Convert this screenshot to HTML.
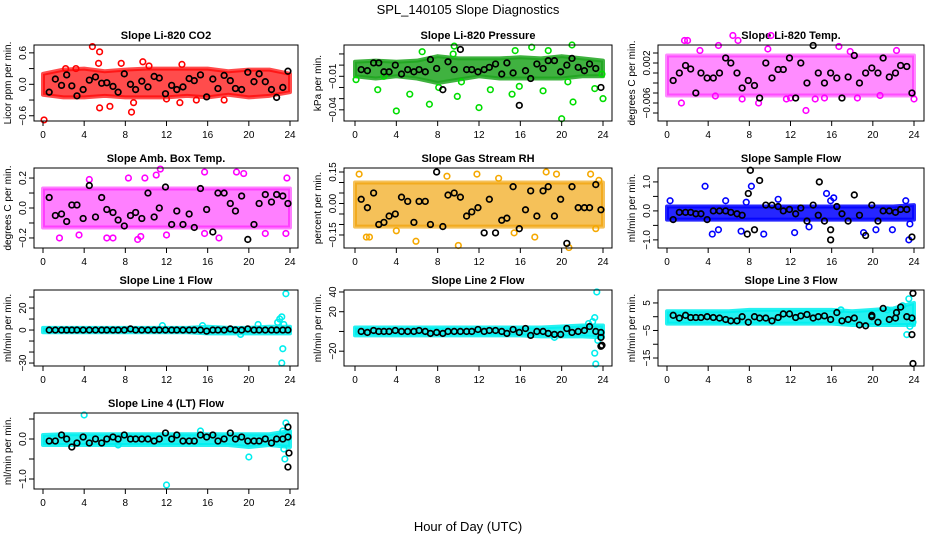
<!DOCTYPE html>
<html><head><meta charset="utf-8">
<style>
html,body{margin:0;padding:0;background:#fff;}
svg{display:block;font-family:"Liberation Sans",sans-serif;}
</style></head>
<body>
<svg id="chart" width="936" height="540" viewBox="0 0 936 540">
<text x="468" y="14" text-anchor="middle" font-size="13">SPL_140105  Slope Diagnostics</text>
<text x="468" y="531" text-anchor="middle" font-size="13">Hour of Day (UTC)</text>
</svg>
<script>
// shared sample hours for black points and band hours
const blackHours=[0.6,1.2,1.8,2.3,2.8,3.3,3.9,4.5,5.1,5.7,6.2,6.8,7.3,7.9,8.5,9.0,9.6,10.2,10.8,11.3,11.9,12.5,13.0,13.6,14.2,14.7,15.3,15.9,16.5,17.0,17.6,18.2,18.7,19.3,19.9,20.5,21.0,21.6,22.2,22.7,23.3,23.8];
const bandHours=[0,2,4,6,8,10,12,14,16,18,20,22,24];
const xTicks=[0,4,8,12,16,20,24];

// CO2
const co2Black=[-0.15,0.1,-0.02,0.18,-0.03,-0.22,-0.1,0.08,0.14,0.02,0.03,-0.04,-0.15,0.2,0.0,-0.1,0.06,-0.05,0.15,0.12,-0.18,-0.02,-0.1,-0.05,0.11,0.07,0.18,-0.24,0.1,-0.08,0.17,0.07,-0.08,-0.1,0.23,0.05,0.2,0.05,-0.1,-0.25,-0.06,0.25];
const co2Lo=[-0.2,-0.25,-0.25,-0.22,-0.25,-0.25,-0.25,-0.22,-0.25,-0.2,-0.25,-0.22,-0.15];
const co2Hi=[0.2,0.28,0.3,0.25,0.28,0.3,0.3,0.3,0.3,0.25,0.28,0.28,0.2];
const co2OutH=[4.8,5.5,5.5,6.5,8.6,0.1,2.2,3.2,5.4,7.6,9.7,12,13.3,14.9,17.6,10.3,13.5,8.8];
const co2OutV=[0.72,0.62,-0.45,-0.42,-0.53,-0.68,0.3,0.3,0.4,0.4,0.43,-0.28,-0.35,-0.3,-0.3,0.35,0.38,-0.35];
// Pressure
const presBlack=[-0.004,-0.005,0.002,0.002,-0.006,-0.006,0.0,-0.008,-0.004,-0.006,-0.004,-0.006,0.005,-0.003,-0.022,0.003,-0.004,0.014,-0.004,-0.004,-0.006,-0.004,-0.002,0.001,-0.008,0.002,-0.007,-0.036,-0.005,-0.012,0.001,-0.003,0.004,0.004,-0.006,0.0,0.006,-0.002,-0.005,0.001,-0.003,-0.02];
const presLo=[-0.01,-0.012,-0.01,-0.012,-0.016,-0.013,-0.01,-0.012,-0.012,-0.012,-0.012,-0.01,-0.01];
const presHi=[0.003,0.004,0.003,0.004,0.008,0.006,0.006,0.006,0.007,0.006,0.008,0.006,0.004];
const presOutH=[0.1,2.2,2.8,4,5.3,7.2,8.1,9.6,9.5,9.9,10.3,12,13.1,15.2,15.9,17.1,18.2,18.7,20,20.6,21,21.1,23.2,24,23.9,6.5,15.5];
const presOutV=[-0.013,-0.022,-0.01,-0.041,-0.026,-0.035,-0.02,0.017,0.01,-0.028,-0.015,-0.038,-0.022,-0.026,-0.019,0.016,-0.023,0.013,-0.048,-0.015,0.018,-0.033,-0.021,-0.03,-0.008,0.012,0.013];
// Temp
const tempBlack=[-0.0015,0.0,0.0015,0.0008,-0.004,0.0,-0.001,-0.001,0.0,0.003,0.002,0.0,-0.003,-0.0015,-0.0025,-0.005,0.002,-0.001,0.0007,0.0007,0.003,-0.005,0.002,-0.002,0.0055,0.0,-0.002,0.0,-0.001,-0.005,-0.0008,0.0035,-0.002,0.0,0.001,0.0,0.003,-0.0008,0.0,0.0015,0.0013,-0.004];
const tempLo=[-0.0045,-0.0045,-0.0045,-0.0045,-0.0045,-0.0045,-0.0045,-0.0045,-0.0045,-0.0045,-0.0045,-0.0045,-0.0045];
const tempHi=[0.0035,0.0035,0.0035,0.0035,0.0035,0.0035,0.0035,0.0035,0.0035,0.0035,0.0035,0.0035,0.0035];
const tempOutH=[1.7,2,3.2,1.4,5.0,6.4,6.9,7.3,9.8,10.1,11.6,12.0,13.5,14.4,16.7,15.3,17.8,18.5,20.7,22.3,24,8.9,4.7];
const tempOutV=[0.0065,0.0065,0.0045,-0.006,0.0055,0.0075,0.0065,-0.0052,0.0048,0.0075,-0.0052,-0.005,-0.0075,-0.0052,0.0053,-0.005,0.0043,-0.005,-0.0045,0.0045,-0.0052,-0.006,-0.0046];
// Amb box temp
const ambBlack=[0.07,-0.05,-0.04,-0.09,0.02,0.02,-0.07,0.15,-0.06,0.07,-0.01,-0.03,-0.08,-0.12,-0.05,-0.03,-0.07,0.1,-0.06,0.0,0.14,-0.11,-0.02,-0.11,-0.04,-0.13,0.13,-0.01,-0.16,0.1,0.1,0.03,-0.02,0.08,-0.21,-0.11,0.03,0.09,0.04,0.09,0.08,0.03];
const ambLo=[-0.13,-0.13,-0.13,-0.13,-0.13,-0.13,-0.13,-0.13,-0.13,-0.13,-0.13,-0.13,-0.13];
const ambHi=[0.13,0.13,0.13,0.13,0.13,0.13,0.13,0.13,0.13,0.13,0.13,0.13,0.13];
const ambOutH=[4.5,9.9,11.4,11.0,15.7,18.8,19.5,23.7,1.6,3.5,6.2,6.8,9.2,9.5,12.0,15.7,17.1,21.6,23.6,8.3];
const ambOutV=[0.19,0.2,0.26,0.22,0.24,0.24,0.23,0.2,-0.2,-0.18,-0.2,-0.2,-0.21,-0.19,-0.18,-0.17,-0.2,-0.17,-0.17,0.2];
// RH
const rhBlack=[0.02,-0.02,0.05,-0.1,-0.09,-0.06,-0.05,0.03,0.01,-0.09,0.01,0.01,-0.1,0.15,-0.11,0.04,0.05,0.03,-0.06,-0.04,-0.02,-0.14,0.02,-0.14,-0.08,-0.07,0.08,-0.12,-0.03,0.06,-0.06,0.06,0.08,-0.06,0.02,-0.19,0.08,-0.02,-0.02,-0.02,0.09,-0.03];
const rhLo=[-0.11,-0.11,-0.11,-0.11,-0.11,-0.11,-0.11,-0.11,-0.11,-0.11,-0.11,-0.11,-0.11];
const rhHi=[0.1,0.1,0.1,0.1,0.1,0.1,0.1,0.1,0.1,0.1,0.1,0.1,0.1];
const rhOutH=[0.4,1.1,1.4,8.9,11.8,13.9,18.5,19.5,20.7,22.8,23.6,5.9,10.0,23.3,17.4,4.0,15.4];
const rhOutV=[0.14,-0.16,-0.16,0.13,0.14,0.12,0.15,0.14,-0.21,0.14,0.11,-0.18,-0.2,-0.12,-0.16,-0.13,-0.14];
// Sample flow
const sfBlack=[-0.3,-0.05,-0.05,-0.05,-0.1,-0.1,-0.3,0.0,0.0,0.0,-0.05,-0.1,-0.15,0.6,-0.65,1.05,0.2,0.2,0.15,0.0,0.05,-0.1,0.1,-0.35,0.2,-0.15,-0.35,-0.65,0.15,-0.1,-0.35,0.55,-0.15,-0.85,0.2,-0.35,0.0,0.0,-0.05,0.05,0.05,-0.9];
const sfExtraH=[8.1,14.8,15.9,7.8];
const sfExtraV=[1.4,1.0,-1.0,-0.8];
const sfLo=[-0.3,-0.3,-0.3,-0.3,-0.3,-0.3,-0.3,-0.3,-0.3,-0.3,-0.3,-0.3,-0.3];
const sfHi=[0.15,0.15,0.15,0.15,0.15,0.15,0.15,0.15,0.15,0.15,0.15,0.15,0.2];
const sfOutH=[0.3,3.7,5.7,4.4,5.0,7.7,8.2,9.4,10.8,12.4,13.8,15.5,15.9,16.2,19.1,20.3,21.9,23.2,23.5,23.6,7.2];
const sfOutV=[0.35,0.85,0.35,-0.8,-0.65,0.3,0.85,-0.8,0.4,-0.75,-0.55,0.6,0.35,0.45,-0.75,-0.65,-0.65,0.35,-1.0,-0.45,-0.7];
// Line 1
const l1Black=[0,0,0,0,0,0,0,0,0,0,0,0,0,0,1,0,0,0,0,0,0,0,0,0,0,0,0,-1,0,0,0,1,0,0,1,0,0,0,0,0,0,0];
const l1Lo=[-2,-2,-2,-2,-2,-2,-2,-2,-3,-3,-3,-3,-3];
const l1Hi=[2,2,2,2,2,2,2,2,3,2,2,3,3];
const l1OutH=[22.8,23.0,23.2,23.4,23.3,23.2,23.6,20.9,11.6,15.5,19.2];
const l1OutV=[7,10,12,5,-17,-30,33,5,4,4,-4];
// Line 2
const l2Black=[0,-1,1,0,0,0,1,0,0,0,1,0,-2,-1,-2,0,0,0,0,0,2,0,1,1,0,-2,2,-1,3,-4,0,0,-2,-3,-3,3,-1,0,1,5,0,-1];
const l2ExtraH=[23.8,23.9,23.8];
const l2ExtraV=[-6,-14,-15];
const l2Lo=[-4,-4,-4,-4,-4,-4,-4,-4,-4,-5,-5,-5,-6];
const l2Hi=[4,4,4,4,4,4,4,4,4,4,5,6,6];
const l2OutH=[23.4,23.0,23.2,23.2,23.3,23.5,22.6,19.3];
const l2OutV=[40,10,14,-22,-33,-9,8,-6];
// Line 3
const l3Black=[0.5,-0.5,0.5,-0.3,-0.3,-0.3,0,-0.3,-0.5,-1,-1.5,-1.5,0,-2,0,-0.5,-0.5,-1.5,-0.3,1,1,-0.3,0.3,0.8,-0.5,0,0.3,-1,1.5,-1.5,-1,-0.5,-3,-3.3,0,-2,3,-1,-0.5,3.5,0,-0.5];
const l3ExtraH=[23.8,23.9,23.9,19.9,22.3];
const l3ExtraV=[-6.5,-17,8.5,0.5,1.5];
const l3Lo=[-2.5,-2.5,-2.5,-2.5,-2.5,-2.5,-2.5,-2.5,-2.5,-3,-3,-3,-3];
const l3Hi=[2,2,2,2,2.5,2.5,2.5,2.5,2.5,2,2.5,3,5];
const l3OutH=[23.5,23.3,23.6,22.9,23.9,21.4,16.9];
const l3OutV=[6.5,-6.5,-3.5,4,-2,2.5,2.5];
// Line 4
const l4Black=[-0.05,-0.05,0.1,0.0,-0.2,-0.1,0.05,-0.1,0.0,-0.1,0.0,0.05,0.0,0.1,0.0,0.0,0.0,0.0,-0.05,0.0,0.15,0.0,0.1,-0.05,-0.05,-0.05,0.1,0.05,0.1,-0.05,0.0,0.15,0.0,0.05,-0.05,-0.05,-0.05,0.0,-0.1,0.0,0.0,0.3];
const l4ExtraH=[23.9,23.8,23.8];
const l4ExtraV=[-0.35,-0.7,0.05];
const l4Lo=[-0.15,-0.15,-0.15,-0.15,-0.15,-0.15,-0.15,-0.15,-0.15,-0.15,-0.2,-0.15,-0.2];
const l4Hi=[0.1,0.12,0.12,0.12,0.12,0.12,0.12,0.12,0.12,0.12,0.12,0.12,0.2];
const l4OutH=[4.0,12,20,23.5,23.6,23.4,23.3,15.3,7.3];
const l4OutV=[0.6,-1.15,-0.45,-0.5,0.4,-0.25,0.2,0.2,-0.15];

const NS="http://www.w3.org/2000/svg";
const svg=document.getElementById('chart');
function mk(tag,attrs,parent){const e=document.createElementNS(NS,tag);for(const k in attrs)e.setAttribute(k,attrs[k]);(parent||svg).appendChild(e);return e;}

const cols=[{l:34,r:298,x0:43,x24:290},{l:344,r:612,x0:355,x24:603},{l:658,r:924,x0:667,x24:914}];
const rows=[{t:45,b:121},{t:168,b:248},{t:290,b:366},{t:413,b:489}];

const panels=[
 {key:'co2',title:'Slope Li-820 CO2',ylab:'Licor ppm per min.',c:0,r:0,ymin:-0.70,ymax:0.75,ticks:[-0.6,-0.3,0,0.3,0.6],labs:['\u22120.6','','0.0','','0.6'],color:'#ff0000',bandColor:'#ff0000',op:0.7,black:co2Black,lo:co2Lo,hi:co2Hi,oh:co2OutH,ov:co2OutV},
 {key:'pressure',title:'Slope Li-820 Pressure',ylab:'kPa per min.',c:1,r:0,ymin:-0.05,ymax:0.018,ticks:[0.01,0,-0.01,-0.02,-0.03,-0.04],labs:['','','\u22120.01','','','\u22120.04'],color:'#00dd00',bandColor:'#1fa51f',op:0.85,black:presBlack,lo:presLo,hi:presHi,oh:presOutH,ov:presOutV},
 {key:'temp',title:'Slope Li-820 Temp.',ylab:'degrees C per min.',c:2,r:0,ymin:-0.0096,ymax:0.0056,ticks:[0.004,0.002,0,-0.002,-0.004,-0.006,-0.008],labs:['','0.002','','','','\u22120.006',''],color:'#ff00ff',bandColor:'#ff00ff',op:0.45,black:tempBlack,lo:tempLo,hi:tempHi,oh:tempOutH,ov:tempOutV},
 {key:'amb-box-temp',title:'Slope Amb. Box Temp.',ylab:'degrees C per min.',c:0,r:1,ymin:-0.267,ymax:0.267,ticks:[0.2,0.1,0,-0.1,-0.2],labs:['0.2','','0.0','','\u22120.2'],color:'#ff00ff',bandColor:'#ff00ff',op:0.5,black:ambBlack,lo:ambLo,hi:ambHi,oh:ambOutH,ov:ambOutV},
 {key:'gas-stream-rh',title:'Slope Gas Stream RH',ylab:'percent per min.',c:1,r:1,ymin:-0.212,ymax:0.169,ticks:[0.15,0.1,0.05,0,-0.05,-0.1,-0.15],labs:['0.15','','','0.00','','','\u22120.15'],color:'#f5a800',bandColor:'#f0a000',op:0.65,black:rhBlack,lo:rhLo,hi:rhHi,oh:rhOutH,ov:rhOutV},
 {key:'sample-flow',title:'Slope Sample Flow',ylab:'ml/min per min.',c:2,r:1,ymin:-1.28,ymax:1.48,ticks:[1,0.5,0,-0.5,-1],labs:['1.0','','0.0','','\u22121.0'],color:'#0000ff',bandColor:'#0000ff',op:0.85,black:sfBlack,lo:sfLo,hi:sfHi,oh:sfOutH,ov:sfOutV,eh:sfExtraH,ev:sfExtraV},
 {key:'line1-flow',title:'Slope Line 1 Flow',ylab:'ml/min per min.',c:0,r:2,ymin:-32.7,ymax:36.4,ticks:[30,20,10,0,-10,-20,-30],labs:['','20','','0','','','\u221230'],color:'#00eeee',bandColor:'#00eeee',op:0.85,black:l1Black,lo:l1Lo,hi:l1Hi,oh:l1OutH,ov:l1OutV},
 {key:'line2-flow',title:'Slope Line 2 Flow',ylab:'ml/min per min.',c:1,r:2,ymin:-35,ymax:42,ticks:[40,20,0,-20],labs:['40','20','','\u221220'],color:'#00eeee',bandColor:'#00eeee',op:0.85,black:l2Black,lo:l2Lo,hi:l2Hi,oh:l2OutH,ov:l2OutV,eh:l2ExtraH,ev:l2ExtraV},
 {key:'line3-flow',title:'Slope Line 3 Flow',ylab:'ml/min per min.',c:2,r:2,ymin:-17.9,ymax:9.7,ticks:[5,0,-5,-10,-15],labs:['5','','\u22125','','\u221215'],color:'#00eeee',bandColor:'#00eeee',op:0.85,black:l3Black,lo:l3Lo,hi:l3Hi,oh:l3OutH,ov:l3OutV,eh:l3ExtraH,ev:l3ExtraV},
 {key:'line4-flow',title:'Slope Line 4 (LT) Flow',ylab:'ml/min per min.',c:0,r:3,ymin:-1.25,ymax:0.65,ticks:[0.5,0,-0.5,-1],labs:['','0.0','','\u22121.0'],color:'#00eeee',bandColor:'#00eeee',op:0.85,black:l4Black,lo:l4Lo,hi:l4Hi,oh:l4OutH,ov:l4OutV,eh:l4ExtraH,ev:l4ExtraV}
];

panels.forEach(p=>{
  const C=cols[p.c],R=rows[p.r];
  const xs=h=>C.x0+h*(C.x24-C.x0)/24;
  const ys=v=>R.b-(v-p.ymin)/(p.ymax-p.ymin)*(R.b-R.t);
  const g=mk('g',{});
  
  
  const t=mk('text',{x:(C.l+C.r)/2,y:R.t-6,'text-anchor':'middle','font-size':'11','font-weight':'bold'},g);
  t.textContent=p.title;
  
  
  let pts=bandHours.map((h,i)=>xs(h)+','+ys(p.hi[i]));
  pts=pts.concat(bandHours.slice().reverse().map((h,j)=>{const i=bandHours.length-1-j;return xs(h)+','+ys(p.lo[i]);}));
  const band=mk('polygon',{points:pts.join(' '),fill:p.bandColor,'fill-opacity':p.op,stroke:p.bandColor,'stroke-opacity':p.op,'stroke-width':'4','stroke-linejoin':'round'},g);
  
  
  p.oh.forEach((h,i)=>{
    const c=mk('circle',{cx:xs(h),cy:ys(p.ov[i]),r:2.8,fill:'none',stroke:p.color,'stroke-width':'1.6'},g);
    
    
  });
  blackHours.forEach((h,i)=>{
    const c=mk('circle',{cx:xs(h),cy:ys(p.black[i]),r:2.8,fill:'none',stroke:'#000','stroke-width':'1.7'},g);
    
    
  });
  if(p.eh){p.eh.forEach((h,i)=>{
    const c=mk('circle',{cx:xs(h),cy:ys(p.ev[i]),r:2.8,fill:'none',stroke:'#000','stroke-width':'1.7'},g);
    
    
  });}
  const box=mk('rect',{x:C.l,y:R.t,width:C.r-C.l,height:R.b-R.t,fill:'none',stroke:'#000','stroke-width':'1'},g);
  
  
  xTicks.forEach(h=>{
    mk('line',{x1:xs(h),x2:xs(h),y1:R.b,y2:R.b+5,stroke:'#000'},g);
    const tl=mk('text',{x:xs(h),y:R.b+17,'text-anchor':'middle','font-size':'10'},g);
    tl.textContent=h;
    
    
  });
  p.ticks.forEach((v,i)=>{
    const y=ys(v);
    mk('line',{x1:C.l-5,x2:C.l,y1:y,y2:y,stroke:'#000'},g);
    if(p.labs[i]){
      const tl=mk('text',{x:C.l-8,y:y,'text-anchor':'middle','font-size':'10',transform:'rotate(-90 '+(C.l-8)+' '+y+')'},g);
      tl.textContent=p.labs[i];
      
      
    }
  });
  const yc=(R.t+R.b)/2;
  const yl=mk('text',{x:C.l-23,y:yc,'text-anchor':'middle','font-size':'10',transform:'rotate(-90 '+(C.l-23)+' '+yc+')'},g);
  yl.textContent=p.ylab;
  
  
});
</script>
</body></html>
